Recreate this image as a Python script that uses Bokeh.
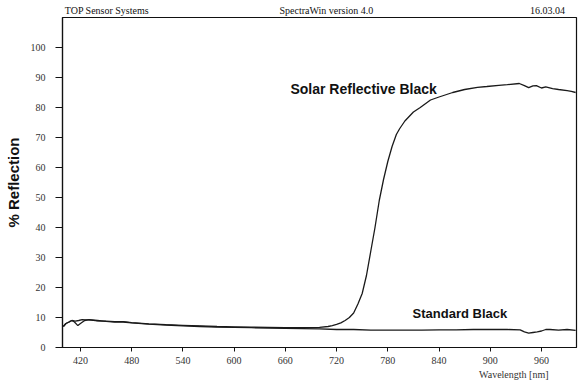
from bokeh.plotting import figure
from bokeh.models import Range1d, FixedTicker, Label, LinearAxis, Title
from bokeh.embed import file_html
from bokeh.resources import INLINE

# ---- data ----
solar_nm = [400, 403, 407, 410, 414, 418, 422, 426, 430, 440, 450, 460, 470, 480, 500, 520, 540,
            560, 580, 600, 620, 640, 660, 680, 700, 710, 715, 720, 725, 730, 735, 740, 745,
            750, 755, 760, 765, 770, 775, 780, 785, 790, 794, 800, 810, 818, 830, 840, 856,
            870, 885, 896, 910, 920, 934, 940, 945, 950, 954, 960, 965, 973, 980, 990, 995, 1000]
solar_val = [7.0, 8.0, 8.6, 9.0, 8.8, 9.0, 9.3, 9.2, 9.2, 8.9, 8.8, 8.6, 8.6, 8.3, 7.9, 7.6, 7.4,
             7.2, 7.0, 6.9, 6.8, 6.7, 6.6, 6.6, 6.7, 7.0, 7.3, 7.7, 8.2, 9.0, 10.0, 11.5, 14.5,
             18.0, 24.0, 32.0, 40.0, 49.0, 56.0, 62.0, 67.0, 71.0, 73.0, 75.5, 78.5, 80.0, 82.5, 83.5, 85.0,
             86.0, 86.7, 87.0, 87.4, 87.6, 88.0, 87.3, 86.6, 87.2, 87.3, 86.5, 86.9, 86.3, 86.0, 85.6, 85.4, 85.0]

std_nm = [400, 403, 407, 410, 413, 417, 420, 425, 430, 440, 450, 460, 470, 480, 500, 520, 540,
          560, 580, 600, 620, 640, 660, 680, 700, 720, 740, 760, 780, 800, 820, 840, 860,
          880, 900, 920, 935, 940, 945, 950, 955, 960, 965, 970, 980, 990, 1000]
std_val = [7.0, 8.0, 8.5, 9.0, 8.5, 7.3, 8.0, 9.0, 9.3, 9.0, 8.7, 8.5, 8.5, 8.2, 7.8, 7.5, 7.2,
           7.0, 6.8, 6.7, 6.6, 6.5, 6.4, 6.3, 6.2, 6.0, 6.0, 5.8, 5.8, 5.8, 5.8, 5.9, 5.9,
           6.0, 6.0, 6.0, 5.9, 5.2, 4.8, 5.0, 5.2, 5.5, 6.0, 6.0, 5.8, 6.0, 5.7]

x_ticks = [420, 480, 540, 600, 660, 720, 780, 840, 900, 960]
y_ticks = [0, 10, 20, 30, 40, 50, 60, 70, 80, 90, 100]

header_texts = ["TOP Sensor Systems", "SpectraWin version 4.0", "16.03.04"]
header_pos = [451, 708, 967]
y_title = "% Reflection"
x_title = "Wavelength [nm]"
solar_name = "Solar Reflective Black"
std_name = "Standard Black"

SERIF = "Liberation Serif"
SANS = "Liberation Sans"

p = figure(width=586, height=381, output_backend="svg", toolbar_location=None,
           x_range=Range1d(399, 1001), y_range=Range1d(0, 110),
           min_border_left=62, min_border_right=10, min_border_top=17, min_border_bottom=34)

p.background_fill_color = "white"
p.border_fill_color = "white"
p.outline_line_color = "#111111"
p.outline_line_width = 1.2
p.xgrid.visible = False
p.ygrid.visible = False

for ax in (p.xaxis[0], p.yaxis[0]):
    ax.axis_line_color = "#111111"
    ax.axis_line_width = 1.2
    ax.major_tick_line_color = "#111111"
    ax.major_tick_in = 0
    ax.minor_tick_line_color = None
    ax.major_label_text_font = SERIF
    ax.major_label_text_font_size = "10px"
    ax.major_label_text_color = "#333333"

p.xaxis.ticker = FixedTicker(ticks=x_ticks)
p.yaxis.ticker = FixedTicker(ticks=y_ticks)
p.xaxis.major_tick_out = 4
p.xaxis.major_label_standoff = 5
p.yaxis.major_tick_out = 7
p.yaxis.major_label_standoff = 10

p.yaxis.axis_label = y_title
p.yaxis.axis_label_text_font = SANS
p.yaxis.axis_label_text_font_style = "bold"
p.yaxis.axis_label_text_font_size = "15px"
p.yaxis.axis_label_text_color = "#111111"
p.yaxis.axis_label_standoff = 6

# header line: an axis above with only labels
top = LinearAxis(ticker=FixedTicker(ticks=header_pos),
                 major_label_overrides={k: v for k, v in zip(header_pos, header_texts)},
                 axis_line_color=None, major_tick_line_color=None, minor_tick_line_color=None,
                 major_tick_out=0, major_tick_in=0, major_label_standoff=2,
                 major_label_text_font=SERIF, major_label_text_font_size="10px",
                 major_label_text_color="#111111")
p.add_layout(top, "above")

# x-axis title, right aligned under the axis
p.add_layout(Title(text=x_title, align="right", offset=28, standoff=0,
                   text_font=SERIF, text_font_size="10px", text_font_style="normal",
                   text_color="#333333"), "below")

p.line(solar_nm, solar_val, line_color="#1a1a1a", line_width=1.3)
p.line(std_nm, std_val, line_color="#1a1a1a", line_width=1.3)

p.add_layout(Label(x=666, y=86.3, text=solar_name, text_font=SANS, text_font_size="14px",
                   text_font_style="bold", text_baseline="middle", text_color="#111111"))
p.add_layout(Label(x=809, y=11.3, text=std_name, text_font=SANS, text_font_size="13px",
                   text_font_style="bold", text_baseline="middle", text_color="#111111"))

open("out.html", "w").write(file_html(p, INLINE))
